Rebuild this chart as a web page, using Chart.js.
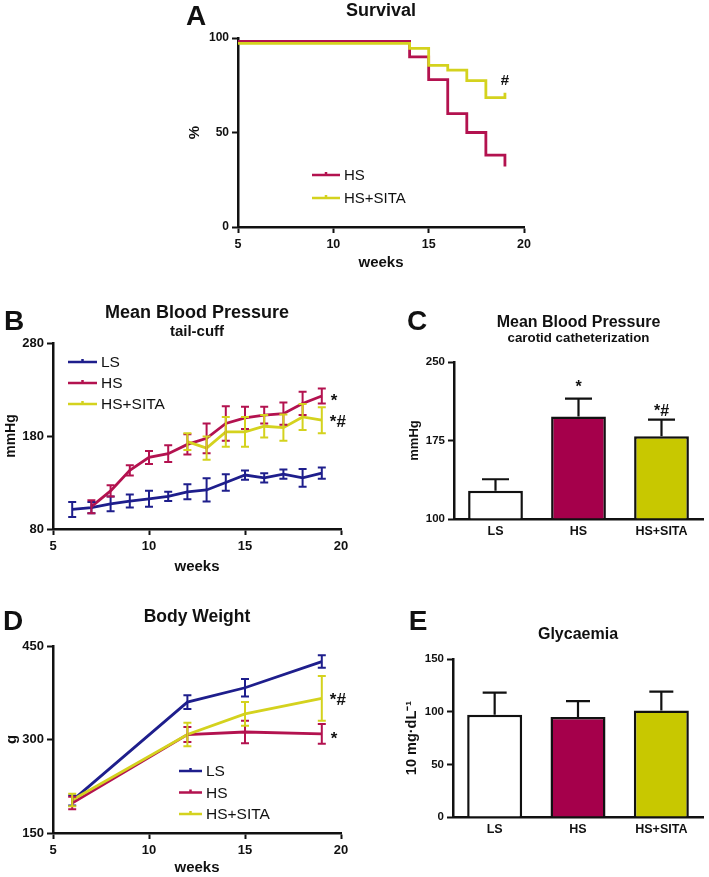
<!DOCTYPE html>
<html>
<head>
<meta charset="utf-8">
<script src="https://cdn.jsdelivr.net/npm/chart.js@4.4.1/dist/chart.umd.min.js"></script>
<style>
  body { margin: 0; background: #fff; width: 709px; height: 877px; position: relative; overflow: hidden; }
  .panel { position: absolute; }
</style>
</head>
<body>
<div class="panel" style="left:170px;top:0px"><canvas id="chartA" width="370" height="290"></canvas></div>
<div class="panel" style="left:0px;top:300px"><canvas id="chartB" width="360" height="280"></canvas></div>
<div class="panel" style="left:360px;top:300px"><canvas id="chartC" width="349" height="280"></canvas></div>
<div class="panel" style="left:0px;top:580px"><canvas id="chartD" width="360" height="297"></canvas></div>
<div class="panel" style="left:360px;top:580px"><canvas id="chartE" width="349" height="297"></canvas></div>
<script>
// A - survival (%)
const survWeeks = [5, 14, 15, 16, 17, 18, 19];
const survHS    = [98.2, 90, 78, 60, 50, 38, 32];
const survSITA  = [97.2, 94.5, 85.5, 83, 77.5, 68.5, 71];

// B - mean blood pressure, tail-cuff (mmHg)
const bpWeeks    = [6, 7, 8, 9, 10, 11, 12, 13, 14, 15, 16, 17, 18, 19];
const bpLS       = [101, 103, 107, 110, 112.5, 115, 120, 122, 130, 138, 135, 139, 135, 140];
const bpLSErr    = [8, 6, 8, 7, 8.5, 5, 8, 12.5, 9, 5, 5, 5, 9.5, 6];
const bpHS       = [null, 104, 121, 143, 157, 161, 171, 177.5, 193.5, 199.5, 202.5, 204, 215, 223];
const bpHSErr    = [null, 7, 6, 5.5, 7, 9, 11, 16, 18.5, 12, 9, 12, 12.5, 8];
const bpSITA     = [null, null, null, null, null, null, 174, 167, 184.5, 184.5, 190.5, 189, 200.5, 197];
const bpSITAErr  = [null, null, null, null, null, null, 9, 12.5, 16, 16, 12, 14, 14, 14];

// C - mean blood pressure, carotid catheterization (mmHg)
const groups    = ['LS', 'HS', 'HS+SITA'];
const carotid    = [127, 198, 179];
const carotidErr = [11, 17, 16];

// D - body weight (g)
const bwWeeks   = [6, 12, 15, 19];
const bwLS      = [202, 360, 383, 425];
const bwLSErr   = [8, 11, 14, 10];
const bwHS      = [198, 308, 312, 309];
const bwHSErr   = [10, 12, 18, 16];
const bwSITA    = [203, 308, 341, 366];
const bwSITAErr = [10, 19, 19, 36];

// E - glycaemia (10 mg/dL)
const glyc    = [97, 95, 101];
const glycErr = [21, 15, 18];

const FONT = "'Liberation Sans', Arial, sans-serif";
const INK = '#111';
const BLUE = '#1e1e8c';
const RED = '#b3124f';
const YEL = '#d4d21e';
const BAR_RED = '#a5004b';
const BAR_YEL = '#c8c800';

const pts = (xs, ys, es) => xs.map((x, i) => ({ x: x, y: ys[i], e: es ? es[i] : null })).filter(p => p.y != null);

// error bars drawn through the chart's own y scale
const errorBars = {
  id: 'errorBars',
  afterDatasetsDraw(chart, args, opts) {
    const ctx = chart.ctx;
    const ys = chart.scales.y;
    const metas = chart.getSortedVisibleDatasetMetas();
    ctx.save();
    for (let k = metas.length - 1; k >= 0; k--) {
      const meta = metas[k];
      const ds = chart.data.datasets[meta.index];
      meta.data.forEach((el, i) => {
        const raw = ds.data[i];
        const v = typeof raw === 'object' ? raw.y : raw;
        const e = typeof raw === 'object' ? raw.e : (ds.errors || [])[i];
        if (e == null) return;
        const top = ys.getPixelForValue(v + e);
        const bot = opts.oneSided ? ys.getPixelForValue(v) : ys.getPixelForValue(v - e);
        ctx.strokeStyle = opts.color || ds.borderColor;
        ctx.lineWidth = opts.width || 2;
        ctx.beginPath();
        ctx.moveTo(el.x, top); ctx.lineTo(el.x, bot);
        ctx.moveTo(el.x - opts.cap, top); ctx.lineTo(el.x + opts.cap, top);
        if (!opts.oneSided) { ctx.moveTo(el.x - opts.cap, bot); ctx.lineTo(el.x + opts.cap, bot); }
        ctx.stroke();
      });
    }
    ctx.restore();
  }
};

// panel letter, titles, legend and significance marks
const decor = {
  id: 'decor',
  afterDraw(chart, args, o) {
    const { ctx, chartArea: ca } = chart;
    const cx = (ca.left + ca.right) / 2;
    ctx.save();
    ctx.fillStyle = INK;
    ctx.textAlign = 'center';
    ctx.textBaseline = 'middle';
    if (o.letter) {
      ctx.font = `bold 28px ${FONT}`;
      ctx.fillText(o.letter[0], o.letter[1], o.letter[2]);
    }
    (o.titles || []).forEach(t => {
      ctx.font = `bold ${t.size}px ${FONT}`;
      ctx.fillText(t.text, cx, t.y);
    });
    if (o.legend) {
      const L = o.legend;
      ctx.textAlign = 'left';
      ctx.font = `${L.size}px ${FONT}`;
      chart.data.datasets.forEach((ds, i) => {
        const y = L.y + i * L.gap;
        ctx.strokeStyle = ds.borderColor;
        ctx.lineWidth = 2.5;
        ctx.beginPath();
        ctx.moveTo(L.x, y); ctx.lineTo(L.x + L.len, y);
        const mx = L.x + L.len / 2;
        ctx.moveTo(mx, y); ctx.lineTo(mx, y - 3);
        ctx.stroke();
        ctx.fillStyle = INK;
        ctx.fillText(ds.label, L.x + L.len + 4, y + 1);
      });
    }
    (o.notes || []).forEach(n => {
      const meta = chart.getDatasetMeta(n.ds);
      const ds = chart.data.datasets[n.ds];
      const i = n.i != null ? n.i : meta.data.length - 1;
      const el = meta.data[i];
      let y = el.y;
      if (n.onError) y = chart.scales.y.getPixelForValue(ds.data[i] + ds.errors[i]);
      ctx.font = `bold ${n.size || 16}px ${FONT}`;
      ctx.textAlign = n.align || 'left';
      ctx.fillStyle = INK;
      ctx.fillText(n.text, el.x + (n.dx || 0), y + (n.dy || 0));
    });
    ctx.restore();
  }
};

const tickFont = size => ({ family: FONT, weight: 'bold', size: size });

function axis(o) {
  return {
    type: o.type || 'linear',
    min: o.min, max: o.max,
    border: { display: true, color: INK, width: 2.5 },
    grid: { display: true, drawOnChartArea: false, drawTicks: o.ticks !== false, tickLength: 6, tickWidth: 2, tickColor: INK, offset: false },
    ticks: { stepSize: o.step, color: INK, font: tickFont(o.fs || 12), padding: o.pad != null ? o.pad : 3, maxRotation: 0, autoSkip: false },
    title: { display: !!o.title, text: o.title, color: INK, font: { family: FONT, weight: 'bold', size: o.tfs || 14 }, padding: { top: o.tpad, bottom: o.tpad } },
    afterFit: s => { if (o.w != null) s.width = o.w; if (o.h != null) s.height = o.h; }
  };
}

function common(padding, decorOpts, errOpts) {
  return {
    responsive: false,
    animation: false,
    devicePixelRatio: 1,
    layout: { padding: padding },
    elements: { point: { radius: 0 }, line: { borderWidth: 2.8, tension: 0 } },
    plugins: { legend: { display: false }, tooltip: { enabled: false }, decor: decorOpts, errorBars: errOpts }
  };
}

// A
new Chart(document.getElementById('chartA'), {
  type: 'line',
  data: { datasets: [
    { label: 'HS', data: pts(survWeeks, survHS), borderColor: RED, stepped: true, order: 1 },
    { label: 'HS+SITA', data: pts(survWeeks, survSITA), borderColor: YEL, stepped: true, order: 0 }
  ] },
  options: Object.assign(common({ top: 38, right: 16, left: 0, bottom: 0 }, {
    letter: ['A', 26, 17],
    titles: [{ text: 'Survival', size: 18, y: 11 }],
    legend: { x: 142, y: 175, len: 28, gap: 23, size: 15 },
    notes: [{ ds: 1, text: '#', dx: 0, dy: -12, align: 'center', size: 15 }]
  }, { cap: 0 }), {
    scales: {
      x: axis({ min: 5, max: 20, step: 5, title: 'weeks', tfs: 15, tpad: 18, h: 63, pad: 4, fs: 12.5 }),
      y: axis({ min: 0, max: 100, step: 50, title: '%', tfs: 15, tpad: 16, w: 68, fs: 12 })
    }
  }),
  plugins: [decor]
});

// B
new Chart(document.getElementById('chartB'), {
  type: 'line',
  data: { datasets: [
    { label: 'LS', data: pts(bpWeeks, bpLS, bpLSErr), borderColor: BLUE, order: 2 },
    { label: 'HS', data: pts(bpWeeks, bpHS, bpHSErr), borderColor: RED, order: 1 },
    { label: 'HS+SITA', data: pts(bpWeeks, bpSITA, bpSITAErr), borderColor: YEL, order: 0 }
  ] },
  options: Object.assign(common({ top: 43, right: 19, left: 0, bottom: 0 }, {
    letter: ['B', 14, 22],
    titles: [{ text: 'Mean Blood Pressure', size: 18, y: 13 }, { text: 'tail-cuff', size: 15, y: 32 }],
    legend: { x: 68, y: 62, len: 29, gap: 21, size: 15.5 },
    notes: [{ ds: 1, text: '*', dx: 9, dy: 5, size: 17 }, { ds: 2, text: '*#', dx: 8, dy: 2, size: 17 }]
  }, { cap: 4, width: 2 }), {
    scales: {
      x: axis({ min: 5, max: 20, step: 5, title: 'weeks', tfs: 15, tpad: 4, h: 51, pad: 4, fs: 13 }),
      y: axis({ min: 80, max: 280, step: 100, title: 'mmHg', tpad: 2.6, w: 53, fs: 13 })
    }
  }),
  plugins: [errorBars, decor]
});

// C
new Chart(document.getElementById('chartC'), {
  type: 'bar',
  data: { labels: groups, datasets: [
    { label: 'MBP', data: carotid, errors: carotidErr, base: 100,
      backgroundColor: ['#ffffff', BAR_RED, BAR_YEL], borderColor: INK, borderWidth: 2.5,
      categoryPercentage: 1, barPercentage: 0.66 }
  ] },
  options: Object.assign(common({ top: 62, right: 6, left: 0, bottom: 0 }, {
    letter: ['C', 57, 22],
    titles: [{ text: 'Mean Blood Pressure', size: 16, y: 23 }, { text: 'carotid catheterization', size: 13.3, y: 38 }],
    notes: [{ ds: 0, i: 1, onError: true, text: '*', dy: -11, align: 'center', size: 16 },
            { ds: 0, i: 2, onError: true, text: '*#', dy: -7.5, align: 'center', size: 16 }]
  }, { cap: 13.5, oneSided: true, color: INK, width: 2.2 }), {
    scales: {
      x: axis({ type: 'category', ticks: false, pad: 5, fs: 12.5, h: 61 }),
      y: axis({ min: 100, max: 250, step: 75, title: 'mmHg', tfs: 13, tpad: 47, w: 94, fs: 11.5 })
    }
  }),
  plugins: [errorBars, decor]
});

// D
new Chart(document.getElementById('chartD'), {
  type: 'line',
  data: { datasets: [
    { label: 'LS', data: pts(bwWeeks, bwLS, bwLSErr), borderColor: BLUE, order: 2 },
    { label: 'HS', data: pts(bwWeeks, bwHS, bwHSErr), borderColor: RED, order: 1 },
    { label: 'HS+SITA', data: pts(bwWeeks, bwSITA, bwSITAErr), borderColor: YEL, order: 0 }
  ] },
  options: Object.assign(common({ top: 66, right: 19, left: 0, bottom: 0 }, {
    letter: ['D', 13, 42],
    titles: [{ text: 'Body Weight', size: 17.5, y: 37 }],
    legend: { x: 179, y: 191, len: 23, gap: 21.5, size: 15.5 },
    notes: [{ ds: 2, text: '*#', dx: 8, dy: 2, size: 17 }, { ds: 1, text: '*', dx: 9, dy: 5, size: 17 }]
  }, { cap: 4, width: 2 }), {
    scales: {
      x: axis({ min: 5, max: 20, step: 5, title: 'weeks', tfs: 15, tpad: 0, h: 44, pad: 4, fs: 13 }),
      y: axis({ min: 150, max: 450, step: 150, title: 'g', tfs: 15, tpad: 3, w: 53, fs: 13 })
    }
  }),
  plugins: [errorBars, decor]
});

// E
new Chart(document.getElementById('chartE'), {
  type: 'bar',
  data: { labels: groups, datasets: [
    { label: 'Glycaemia', data: glyc, errors: glycErr,
      backgroundColor: ['#ffffff', BAR_RED, BAR_YEL], borderColor: INK, borderWidth: 2.5,
      categoryPercentage: 1, barPercentage: 0.66 }
  ] },
  options: Object.assign(common({ top: 79, right: 6, left: 0, bottom: 0 }, {
    letter: ['E', 58, 42],
    titles: [{ text: 'Glycaemia', size: 16, y: 55 }]
  }, { cap: 12, oneSided: true, color: INK, width: 2.2 }), {
    scales: {
      x: axis({ type: 'category', ticks: false, pad: 5, fs: 12.5, h: 60 }),
      y: axis({ min: 0, max: 150, step: 50, title: '10 mg·dL⁻¹', tfs: 14.5, tpad: 43.5, w: 93, fs: 11.5 })
    }
  }),
  plugins: [errorBars, decor]
});
</script>
</body>
</html>
